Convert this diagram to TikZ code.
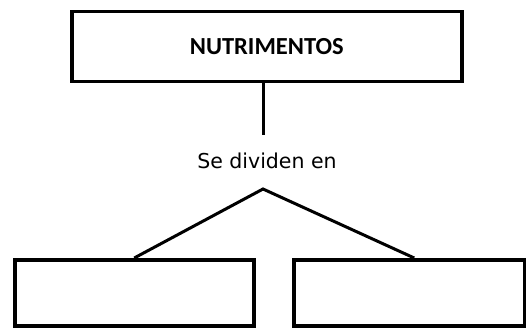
\documentclass[tikz,border=0pt]{standalone}
\usepackage{fontspec}
\setmainfont{DejaVu Sans}
\newfontfamily\titlefont{Carlito}
\begin{document}
\begin{tikzpicture}[x=1pt,y=1pt,
  box/.style={draw=black,line width=3.5pt,inner sep=0pt,anchor=north west},
  link/.style={draw=black,line width=3pt}]
\useasboundingbox[fill=white] (0,0) rectangle (526,327);
\node[box,minimum width=390pt,minimum height=70pt] (top) at (70,317)
  {\titlefont\bfseries\fontsize{24.5}{28}\selectfont NUTRIMENTOS};
\node[font=\fontsize{20.5}{24}\selectfont,inner sep=0pt] (txt) at (267,166) {Se dividen en};
\coordinate (stem) at (263,192);
\coordinate (apex) at (263,138);
\node[box,minimum width=239pt,minimum height=66pt] (left) at (13,69) {};
\node[box,minimum width=231pt,minimum height=66pt] (right) at (292,69) {};
\draw[link] (top.south -| stem) -- (stem);
\draw[link,line join=miter] ([xshift=0pt]left.north) -- (apex) -- ([xshift=5pt]right.north);
\end{tikzpicture}
\end{document}
